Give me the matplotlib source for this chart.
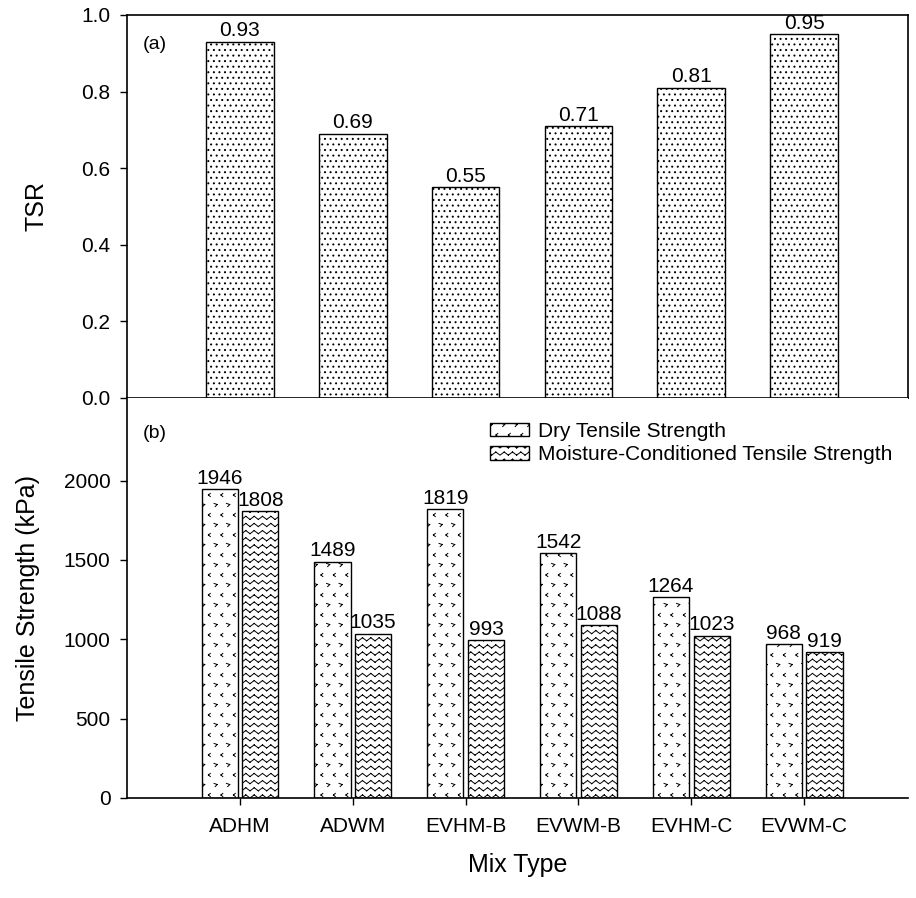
import warnings
import numpy as np
import matplotlib
matplotlib.use('Agg')
import matplotlib.pyplot as plt
import matplotlib.hatch as mhatch
from matplotlib.path import Path
from matplotlib.ticker import FormatStrFormatter

warnings.filterwarnings('ignore')

# data
mixes = ['ADHM', 'ADWM', 'EVHM-B', 'EVWM-B', 'EVHM-C', 'EVWM-C']
tsr = [0.93, 0.69, 0.55, 0.71, 0.81, 0.95]
dry_ts = [1946, 1489, 1819, 1542, 1264, 968]
wet_ts = [1808, 1035, 993, 1088, 1023, 919]


# custom hatches: '~' zigzag rows, '?' little hook marks
# (built from 2-point segments so Agg does not fill them)
class WaveHatch(mhatch.HatchPatternBase):
    def __init__(self, hatch, density):
        self.rows = 14 if '~' in hatch else 0
        self.periods = 12
        self.num_vertices = self.rows * self.periods * 2 * 2

    def set_vertices_and_codes(self, vertices, codes):
        n = 2 * self.periods
        xs = np.linspace(0, 1, n + 1)
        amp = 0.22 / self.rows
        sign = np.where(np.arange(n + 1) % 2 == 0, -1, 1)
        k = 0
        for i in range(self.rows):
            ys = (i + 0.5) / self.rows + amp * sign
            for j in range(n):
                vertices[k] = (xs[j], ys[j])
                vertices[k + 1] = (xs[j + 1], ys[j + 1])
                codes[k] = Path.MOVETO
                codes[k + 1] = Path.LINETO
                k += 2


class MarkHatch(mhatch.HatchPatternBase):
    def __init__(self, hatch, density):
        self.nx, self.ny = (8, 5) if '?' in hatch else (0, 0)
        self.num_vertices = self.nx * self.ny * 8

    def set_vertices_and_codes(self, vertices, codes):
        dx, dy = 1 / self.nx, 1 / self.ny
        a = 0.016
        k = 0
        for i in range(self.nx):
            for j in range(self.ny):
                cx, cy = (i + 0.25) * dx, (j + 0.75) * dy
                hook = [(cx - a, cy + a), (cx + a, cy + 0.3 * a), (cx - 0.3 * a, cy - a)]
                cx, cy = (i + 0.75) * dx, (j + 0.25) * dy
                angle = [(cx + 0.6 * a, cy + a), (cx - 0.6 * a, cy), (cx + 0.6 * a, cy - a)]
                for pts in (hook, angle):
                    for p, q in ((pts[0], pts[1]), (pts[1], pts[2])):
                        vertices[k] = p
                        vertices[k + 1] = q
                        codes[k] = Path.MOVETO
                        codes[k + 1] = Path.LINETO
                        k += 2


mhatch._hatch_types.extend([WaveHatch, MarkHatch])

plt.rcParams['font.family'] = ['Liberation Sans', 'DejaVu Sans']
plt.rcParams['hatch.linewidth'] = 0.7

x = np.arange(len(mixes))

fig = plt.figure(figsize=(9.16, 8.98), dpi=100)
ax1 = fig.add_axes([0.1387, 0.5568, 0.8526, 0.4265])
ax2 = fig.add_axes([0.1387, 0.1114, 0.8526, 0.4454])

# (a) TSR
b = ax1.bar(x, tsr, 0.6, color='white', edgecolor='black', hatch='...', linewidth=1)
ax1.bar_label(b, labels=['%.2f' % v for v in tsr], padding=1, fontsize=15)
ax1.set_xlim(-1, 5.92)
ax1.set_ylim(0, 1)
ax1.set_xticks([])
ax1.set_yticks(np.arange(0, 1.01, 0.2))
ax1.yaxis.set_major_formatter(FormatStrFormatter('%.1f'))
ax1.set_ylabel('TSR', fontsize=18)
ax1.yaxis.set_label_coords(-0.101, 0.5)
ax1.text(0.02, 0.924, '(a)', transform=ax1.transAxes, fontsize=14, va='center')

# (b) tensile strength
w = 0.32
b1 = ax2.bar(x - 0.18, dry_ts, w, color='white', edgecolor='black', hatch='?',
             linewidth=1, label='Dry Tensile Strength')
b2 = ax2.bar(x + 0.18, wet_ts, w, color='white', edgecolor='black', hatch='~',
             linewidth=1, label='Moisture-Conditioned Tensile Strength')
ax2.bar_label(b1, padding=1, fontsize=15)
ax2.bar_label(b2, padding=1, fontsize=15)
ax2.set_xlim(-1, 5.92)
ax2.set_ylim(0, 2520)
ax2.set_yticks(np.arange(0, 2001, 500))
ax2.set_xticks(x)
ax2.set_xticklabels(mixes)
ax2.set_ylabel('Tensile Strength (kPa)', fontsize=18)
ax2.yaxis.set_label_coords(-0.111, 0.5)
ax2.set_xlabel('Mix Type', fontsize=18, labelpad=12)
ax2.spines['top'].set_visible(False)
ax2.spines['right'].set_visible(False)
ax2.text(0.02, 0.91, '(b)', transform=ax2.transAxes, fontsize=14, va='center')
ax2.legend(loc='upper left', bbox_to_anchor=(0.465, 0.94), frameon=False,
           fontsize=15, borderpad=0, borderaxespad=0, handlelength=1.87,
           handleheight=0.63, handletextpad=0.43, labelspacing=0.2)

for ax in (ax1, ax2):
    ax.tick_params(direction='out', length=5, width=1, labelsize=15, pad=7)
    for s in ax.spines.values():
        s.set_linewidth(1.2)
ax2.tick_params(axis='x', pad=9)

fig.savefig('out.png', dpi=100)
